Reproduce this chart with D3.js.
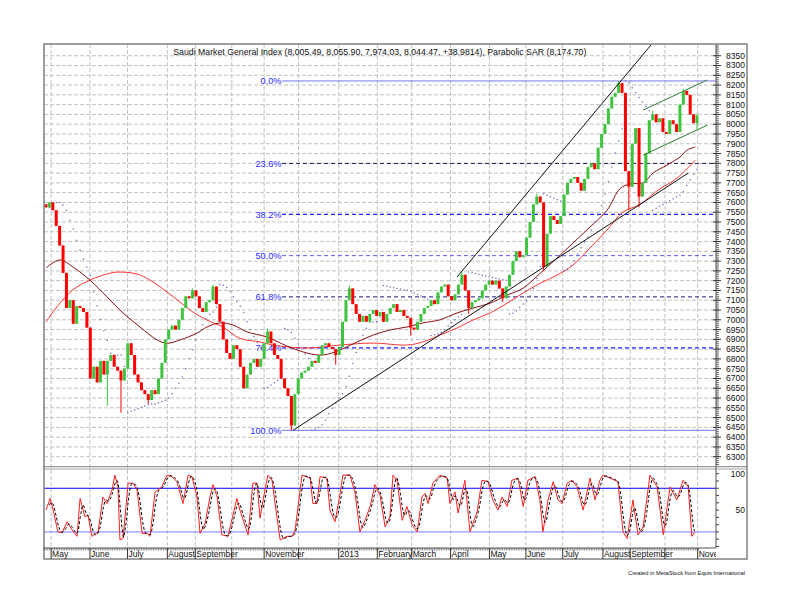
<!DOCTYPE html>
<html><head><meta charset="utf-8">
<script src="https://cdn.jsdelivr.net/npm/d3@7"></script>
<style>body{margin:0;background:#fff}svg{display:block}text{font-family:"Liberation Sans",Arial,sans-serif}</style>
</head><body><svg id="c" width="792" height="612"></svg>
<script>
// ---- data (bar index: ~2 trading days per bar) ----
const closes = [7575,7600,7560,7480,7380,7240,7060,7100,6980,7070,7060,7040,6960,6700,6760,6680,6790,6720,6790,6820,
6760,6740,6690,6750,6880,6820,6720,6680,6640,6620,6590,6640,6620,6700,6780,6900,6950,6970,6950,7000,
7060,7120,7110,7150,7120,7060,7040,7090,7100,7170,7080,6990,6900,6830,6800,6870,6850,6760,6650,6720,
6780,6800,6760,6800,6880,6940,6880,6820,6800,6700,6650,6610,6460,6620,6700,6730,6740,6760,6790,6780,
6820,6870,6880,6860,6850,6820,6860,6990,7100,7160,7080,7030,6990,7020,6990,7030,7050,7020,7040,6990,
7030,7060,7080,7040,7050,7020,7010,6960,6950,6990,7030,7060,7070,7100,7080,7140,7170,7180,7120,7100,
7130,7180,7230,7150,7060,7090,7100,7110,7150,7180,7200,7180,7200,7160,7110,7170,7230,7300,7350,7320,
7330,7420,7500,7590,7630,7600,7270,7440,7530,7510,7490,7530,7640,7700,7720,7730,7700,7660,7720,7780,
7800,7770,7880,7950,8000,8080,8140,8160,8210,8160,7760,7680,7900,7980,7630,7700,7850,8020,8050,8010,
8030,7960,7950,8020,8000,7960,8100,8170,8150,8050,8005.49,8044.47];
const firstOpen = 7590;
const wickHighIdx = [43,49,65,89,122,144,168,178,187,191];
const wickHighVal = [7160,7180,6955,7175,7245,7645,8221,8070,8180,8055.9];
const wickLowIdx = [18,22,30,72,85,107,124,134,146,171,174,191];
const wickLowVal = [6560,6525,6570,6435,6770,6920,7030,7090,7250,7560,7575,7974.03];

const ma1Idx = [0,4.1,7.9,12.9,17.9,22.6,27.6,32.6,35.5,39.3,44.3,47.2,51.1,54.9,59,64.8,70.7,76.6,81.3,86.3,91.3,96,100.9,105.9,110.6,115.6,120.6,125.3,130.3,135.3,140,145,149.9,154.6,159.6,164.6,168.4,171.4,175.2,178.1,182.2,186,188.1,190.5];
const ma1Val = [7265,7306,7270,7203,7117,7035,6963,6897,6880,6897,6932,6963,6984,6973,6938,6912,6866,6830,6820,6846,6887,6922,6948,6963,6984,7000,7035,7060,7085,7126,7162,7238,7315,7392,7474,7560,7670,7695,7700,7750,7791,7832,7868,7883];
const ma2Idx = [0,3.2,7.9,12.9,17.9,20.8,26.7,30.5,35.5,39.3,43.1,47.2,51.9,56.9,62.8,66.6,76.6,86.3,96,105.9,110.6,115.6,120.6,125.3,130.3,135.3,140,145,149.9,154.6,159.6,164.6,169.3,174.3,179.3,185.1,190.5];
const ma2Val = [6989,7066,7153,7203,7234,7244,7234,7203,7142,7091,7040,6999,6963,6905,6887,6871,6856,6871,6881,6871,6887,6922,6958,6999,7035,7085,7137,7187,7228,7280,7367,7459,7551,7590,7660,7724,7817];

const stochIdx = [0,1.2,2.1,3.5,4.7,6.2,7.6,9.1,10,11.4,12.3,13.5,15.3,16.7,17.9,19.4,20.2,21.1,21.7,22.6,
24.1,25.5,26.7,28.2,29.6,30.5,32,32.9,34,35.5,37,38.4,40.2,41.7,42.8,44.3,45.2,46.7,48.1,49,
50.2,51.6,53.4,56,56.9,59.3,60.7,61.9,62.8,63.7,65.1,66.3,67.8,68.7,70.7,72.2,73.1,75.1,77.5,78.3,
79.5,80.4,82.4,83.3,84.8,86.3,87.1,89.2,90.7,92.1,93.6,95.1,96.5,98,99.5,100.9,101.8,103,104.5,105.9,
107.4,108.9,110.3,111.2,112.1,113.5,115.6,117.7,118.5,120,120.9,122.9,124.4,126.5,127.9,129.7,131.1,132.6,133.8,135.3,
136.7,138.5,140,141.4,143.5,144.9,145.8,147.3,148.8,150.2,151.4,152.9,154.3,155.8,157.6,159.6,161.1,162.5,163.4,165.5,
167.8,169.3,170.5,172.2,173.7,175.2,177.2,179.3,181.1,183.1,185.1,186.9,188.4,189.5,190.4];
const stochK = [50,66,50,20,19,34,23,14,66,41,43,14,20,68,59,78,98,82,9,11,
87,87,78,18,18,14,75,78,82,98,96,89,59,98,96,68,18,32,68,85,
68,16,14,66,50,16,87,87,39,64,98,91,39,9,14,14,23,98,94,59,
59,96,94,50,34,73,98,98,73,20,36,55,85,70,27,41,98,91,36,55,
30,20,68,73,59,87,98,94,59,75,46,91,20,48,91,89,64,50,68,55,
91,94,55,91,96,64,20,64,89,64,59,87,91,82,50,94,64,91,98,94,
89,20,11,64,16,27,98,82,16,82,64,91,82,14,20];

const monthIdx = [1.5,12.9,23.9,35.6,43.8,54.5,64,74.1,85.9,97.2,107.3,118.7,130.1,140.8,151.6,163.4,171.4,181.6,191.2];
const monthLabels = ["May","June","July","August","September","","November","","2013","February","March","April","May","June","July","August","September","","November"];

const priceLabels = d3.range(6300, 8351, 50);
const fibHigh = 8221, fibLow = 6435;
const fibLevels = [0, 23.6, 38.2, 50, 61.8, 76.4, 100];
const trendLowIdx = [72.5, 188.4], trendLowVal = [6435, 7750];
const trendHighIdx = [120.6, 177.5], trendHighVal = [7219, 8405];
const chanUpIdx = [175.2, 194], chanUpVal = [8072, 8226];
const chanLoIdx = [175.2, 194], chanLoVal = [7842, 7995];
const stochLevels = [80, 20];
const titleText = "Saudi Market General Index (8,005.49, 8,055.90, 7,974.03, 8,044.47, +38.9814), Parabolic SAR (8,174.70)";

// ---- build OHLC ----
const N = closes.length;
const opens = closes.map((c,i)=> i===0 ? firstOpen : closes[i-1]);
const highs = closes.map((c,i)=> Math.max(c, opens[i]));
const lows = closes.map((c,i)=> Math.min(c, opens[i]));
wickHighIdx.forEach((k,j)=> highs[k] = Math.max(highs[k], wickHighVal[j]));
wickLowIdx.forEach((k,j)=> lows[k] = Math.min(lows[k], wickLowVal[j]));
opens[N-1] = 8005.49;

// parabolic SAR
function psar(h,l){
  const out=[]; let up=false, af=0.02, ep=l[0], sar=h[0]; out.push(sar);
  for(let i=1;i<h.length;i++){
    sar = sar + af*(ep-sar);
    if(up){
      sar = Math.min(sar, l[i-1], i>1?l[i-2]:l[i-1]);
      if(l[i]<sar){ up=false; sar=ep; ep=l[i]; af=0.02; }
      else if(h[i]>ep){ ep=h[i]; af=Math.min(af+0.02,0.2); }
    } else {
      sar = Math.max(sar, h[i-1], i>1?h[i-2]:h[i-1]);
      if(h[i]>sar){ up=true; sar=ep; ep=h[i]; af=0.02; }
      else if(l[i]<ep){ ep=l[i]; af=Math.min(af+0.02,0.2); }
    }
    out.push(sar);
  }
  return out;
}
const sar = psar(highs, lows);

// ---- layout ----
const svg = d3.select("#c");
const L=44, R=716, FR=747, PT=44, PB=466.5, ST=469, SB=548, FB=559;
const x = d3.scaleLinear().domain([0,191]).range([46,697]);
const y = d3.scaleLinear().domain([6250,8410]).range([466.5,44]);
const ys = d3.scaleLinear().domain([0,100]).range([546.5,473.7]);

const defs = svg.append("defs");
defs.append("clipPath").attr("id","cp").append("rect").attr("x",L).attr("y",PT).attr("width",R-L).attr("height",PB-PT);
defs.append("clipPath").attr("id","cs").append("rect").attr("x",L).attr("y",ST).attr("width",R-L).attr("height",SB-ST);

const grid = "#c2c2c2";
svg.append("g").selectAll("line").data(priceLabels).join("line")
  .attr("x1",L).attr("x2",R).attr("y1",d=>y(d)).attr("y2",d=>y(d))
  .attr("stroke",grid).attr("stroke-dasharray","4,2").attr("stroke-width",1);
svg.append("g").selectAll("line").data(monthIdx).join("line")
  .attr("x1",d=>x(d)).attr("x2",d=>x(d)).attr("y1",PT).attr("y2",SB)
  .attr("stroke",grid).attr("stroke-dasharray","4,2").attr("stroke-width",1);

// fib lines
const fibStyle = {0:["#7373ef",null,1],23.6:["#1a1a66","4,3",1],38.2:["#2020ff","4,3",1.4],50:["#5a5aff","4,3",1],61.8:["#1a1a80","4,3",1],76.4:["#2020ff","4,3",1.4],100:["#7373ef",null,1]};
const fg = svg.append("g");
fibLevels.forEach(p=>{
  const v = fibHigh - (fibHigh-fibLow)*p/100;
  const st = fibStyle[p];
  fg.append("line").attr("x1",282).attr("x2",R).attr("y1",y(v)).attr("y2",y(v))
    .attr("stroke",st[0]).attr("stroke-width",st[2]).attr("stroke-dasharray",st[1]);
  fg.append("text").attr("x",281.5).attr("y",y(v)).attr("dy","0.35em").attr("text-anchor","end")
    .attr("font-size","9.2px").attr("fill","#2a2aff").text(p.toFixed(1)+"%");
});

const pg = svg.append("g").attr("clip-path","url(#cp)");
const lineGen = d3.line().x(d=>x(d[0])).y(d=>y(d[1])).curve(d3.curveCatmullRom);
pg.append("path").datum(ma2Idx.map((d,i)=>[d,ma2Val[i]])).attr("d",lineGen).attr("fill","none").attr("stroke","#ff3333").attr("stroke-width",1);
pg.append("path").datum(ma1Idx.map((d,i)=>[d,ma1Val[i]])).attr("d",lineGen).attr("fill","none").attr("stroke","#8b1010").attr("stroke-width",1);

pg.append("g").selectAll("circle").data(sar.map((v,i)=>[i,v]).slice(1)).join("circle")
  .attr("cx",d=>x(d[0])).attr("cy",d=>y(d[1])).attr("r",0.75).attr("fill","#6a6ab8");

const cg = pg.append("g");
closes.forEach((c,i)=>{
  const o=opens[i], up=c>=o, col = up?"#3ec43e":"#ff0000";
  cg.append("line").attr("x1",x(i)).attr("x2",x(i)).attr("y1",y(highs[i])).attr("y2",y(lows[i])).attr("stroke",col).attr("stroke-width",1);
  const yt=y(Math.max(o,c)), yb=y(Math.min(o,c));
  cg.append("rect").attr("x",x(i)-1.5).attr("width",3).attr("y",yt).attr("height",Math.max(1,yb-yt)).attr("fill",col);
});

const tl = d3.line().x(d=>x(d[0])).y(d=>y(d[1]));
pg.append("path").datum(trendLowIdx.map((d,i)=>[d,trendLowVal[i]])).attr("d",tl).attr("stroke","#111").attr("fill","none").attr("stroke-width",1);
pg.append("path").datum(trendHighIdx.map((d,i)=>[d,trendHighVal[i]])).attr("d",tl).attr("stroke","#111").attr("fill","none").attr("stroke-width",1);
pg.append("path").datum(chanUpIdx.map((d,i)=>[d,chanUpVal[i]])).attr("d",tl).attr("stroke","#2e7d2e").attr("fill","none").attr("stroke-width",1);
pg.append("path").datum(chanLoIdx.map((d,i)=>[d,chanLoVal[i]])).attr("d",tl).attr("stroke","#2e7d2e").attr("fill","none").attr("stroke-width",1);

// stochastic panel
const sg = svg.append("g").attr("clip-path","url(#cs)");
sg.selectAll("line.lv").data(stochLevels).join("line").attr("class","lv")
  .attr("x1",L).attr("x2",R).attr("y1",d=>ys(d)).attr("y2",d=>ys(d))
  .attr("stroke",(d,i)=> i===0?"#0000ff":"#7b7bff").attr("stroke-width",1);
const kInterp = d3.scaleLinear().domain(stochIdx).range(stochK).clamp(true);
const dPts = d3.range(stochIdx[0]+1, stochIdx[stochIdx.length-1]+0.01, 0.25).map(t=>[t,(kInterp(t)+kInterp(t-0.5)+kInterp(t-1))/3]);
const sl = d3.line().x(d=>x(d[0])).y(d=>ys(d[1]));
sg.append("path").datum(stochIdx.map((d,i)=>[d,stochK[i]])).attr("d",sl).attr("fill","none").attr("stroke","#ff2020").attr("stroke-width",1);
sg.append("path").datum(dPts).attr("d",sl).attr("fill","none").attr("stroke","#000").attr("stroke-width",1).attr("stroke-dasharray","3,2");

// frame
const fr = svg.append("g").attr("fill","none");
fr.append("rect").attr("x",L).attr("y",PT).attr("width",FR-L).attr("height",FB-PT).attr("stroke","#808080").attr("stroke-width",1.5);
fr.append("line").attr("x1",L).attr("x2",FR).attr("y1",466.7).attr("y2",466.7).attr("stroke","#808080");
fr.append("line").attr("x1",L).attr("x2",FR).attr("y1",469).attr("y2",469).attr("stroke","#a0a0a0");
fr.append("line").attr("x1",R).attr("x2",R).attr("y1",PT).attr("y2",SB).attr("stroke","#555");
fr.append("line").attr("x1",L).attr("x2",R).attr("y1",SB).attr("y2",SB).attr("stroke","#555");

const ax = svg.append("g");
ax.selectAll("line.mn").data(d3.range(6260,8410,10)).join("line").attr("class","mn")
  .attr("x1",R).attr("x2",R+3).attr("y1",d=>y(d)).attr("y2",d=>y(d)).attr("stroke","#444").attr("stroke-width",0.8);
ax.selectAll("line.mj").data(priceLabels).join("line").attr("class","mj")
  .attr("x1",R-3).attr("x2",R+5).attr("y1",d=>y(d)).attr("y2",d=>y(d)).attr("stroke","#333");
ax.selectAll("text.pl").data(priceLabels).join("text").attr("class","pl")
  .attr("x",745).attr("y",d=>y(d)).attr("dy","0.35em").attr("text-anchor","end").attr("font-size","8.5px").attr("fill","#111").text(d=>d);
ax.selectAll("line.sm").data(d3.range(0,101,10)).join("line").attr("class","sm")
  .attr("x1",R).attr("x2",R+3).attr("y1",d=>ys(d)).attr("y2",d=>ys(d)).attr("stroke","#444");
ax.selectAll("text.sl").data([100,50]).join("text").attr("class","sl")
  .attr("x",745).attr("y",d=>ys(d)).attr("dy","0.35em").attr("text-anchor","end").attr("font-size","8.5px").attr("fill","#111").text(d=>d);

ax.selectAll("line.dt").data(d3.range(-0.5,191.6,0.5)).join("line").attr("class","dt")
  .attr("x1",d=>x(d)).attr("x2",d=>x(d)).attr("y1",SB).attr("y2",SB+2.5).attr("stroke","#444").attr("stroke-width",0.6);
ax.selectAll("line.mt").data(monthIdx).join("line").attr("class","mt")
  .attr("x1",d=>x(d)).attr("x2",d=>x(d)).attr("y1",SB).attr("y2",FB).attr("stroke","#333");
const xl = svg.append("g");
defs.append("clipPath").attr("id","cx").append("rect").attr("x",L).attr("y",SB).attr("width",R-L).attr("height",FB-SB);
xl.attr("clip-path","url(#cx)").selectAll("text").data(monthIdx).join("text")
  .attr("x",d=>x(d)+1).attr("y",557).attr("font-size","8.5px").attr("fill","#111").text((d,i)=>monthLabels[i]);

svg.append("text").attr("x",173.3).attr("y",54.5).attr("font-size","8.5px").attr("fill","#111")
  .attr("textLength",413).attr("lengthAdjust","spacingAndGlyphs").text(titleText);
svg.append("text").attr("x",628).attr("y",574.5).attr("font-size","6px").attr("fill","#111")
  .attr("textLength",117).attr("lengthAdjust","spacingAndGlyphs").text("Created in MetaStock from Equis International");
</script></body></html>
